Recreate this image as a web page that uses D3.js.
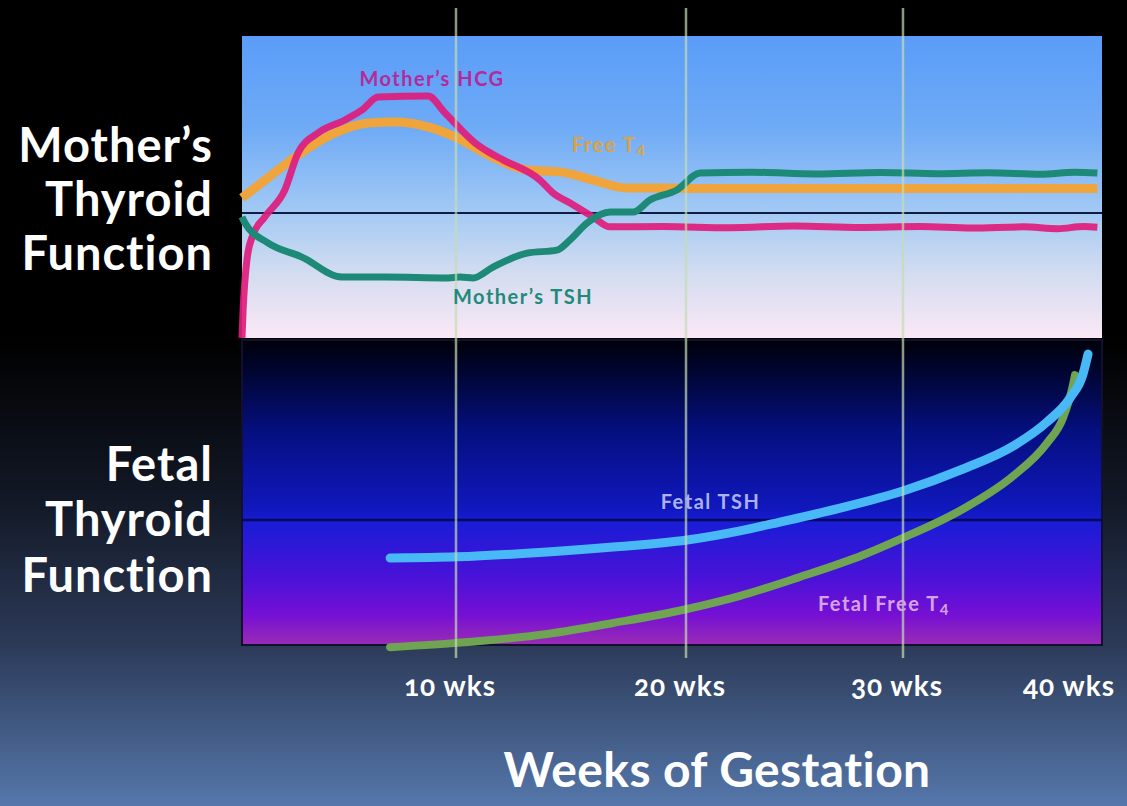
<!DOCTYPE html>
<html>
<head>
<meta charset="utf-8">
<script src="https://cdn.jsdelivr.net/npm/d3@7"></script>
<style>
  html, body { margin: 0; padding: 0; background: #000; }
  svg { display: block; }
  text { font-family: Lato, "Open Sans", sans-serif; }
</style>
</head>
<body>
<svg id="chart" width="1127" height="806"></svg>
<script>
// ---------------- DATA ----------------
// Week-of-gestation tick labels
const tickWeeks = [10, 20, 30, 40];
const tickLabels = ["10 wks", "20 wks", "30 wks", "40 wks"];
const gridWeeks = [10, 20, 30];

// Mother's thyroid panel: relative level 0..100 (reference line at ~41)
const motherRefLevel = 41.4;
const motherHCG = [
  [0, 0], [0.05, 9], [0.23, 25.8], [0.47, 33.4], [1.07, 40.1], [2.0, 49.0], [2.62, 61.3],
  [3.55, 67.9], [4.81, 72.2], [5.61, 75.5], [6.36, 79.8], [8.69, 80.1], [9.49, 74.5],
  [10.83, 64.6], [11.48, 61.3], [12.04, 59.0], [13.65, 52.3], [14.22, 48.0], [14.96, 44.7],
  [15.96, 40.1], [16.7, 36.8], [19, 36.9], [22, 36.5], [25, 37.1], [28, 36.6], [31, 36.9],
  [34, 36.4], [37, 36.8], [39, 36.2], [40.5, 36.9], [41.3, 36.7]
];
const motherFreeT4 = [
  [0, 46.4], [1.21, 53.0], [2.48, 59.9], [4.35, 67.9], [5.89, 71.2], [7.15, 71.5],
  [8.69, 69.9], [9.95, 66.6], [11.48, 60.3], [13.09, 55.6], [14.52, 55.0], [15.96, 52.3],
  [17.43, 49.7], [19.17, 49.7], [20.6, 49.5], [25, 49.5], [30, 49.5], [35, 49.5], [41.3, 49.5]
];
const motherTSH = [
  [0, 40.1], [0.14, 38.1], [1.21, 31.5], [2.8, 26.8], [4.67, 20.2], [6.68, 20.2],
  [9.63, 19.9], [10.17, 20.2], [10.74, 19.9], [11.61, 23.5], [13.09, 28.1], [14.39, 29.1],
  [14.96, 32.5], [15.7, 38.1], [16.7, 41.7], [17.7, 41.7], [18.43, 45.7], [19.6, 49.0],
  [20.65, 54.6], [23, 54.9], [26, 54.3], [29, 54.8], [32, 54.4], [35, 54.7], [38, 54.2],
  [40, 54.9], [41.3, 54.6]
];

// Fetal thyroid panel: relative level 0..100 (reference line at ~41)
const fetalRefLevel = 41;
const fetalTSH = [
  [6.92, 28.5], [10.04, 28.9], [13.96, 30.5], [16.83, 32.1], [20.05, 34.4], [22.49, 37.4],
  [24.33, 40.3], [27.1, 44.9], [30.0, 50.5], [33.49, 57.7], [36.4, 65.2], [38.37, 73.1],
  [39.71, 81.0], [40.47, 88.9], [40.76, 95.4]
];
const fetalFreeT4 = [
  [6.92, -0.7], [10.04, 0.7], [13.96, 3.6], [16.83, 7.2], [20.05, 11.8], [22.49, 16.1],
  [25.12, 22.0], [28.16, 29.5], [30.0, 35.1], [33.49, 44.6], [36.4, 55.4], [38.37, 66.2],
  [39.3, 74.4], [39.88, 85.2], [40.0, 88.5]
];

const rowLabelsMother = ["Mother\u2019s", "Thyroid", "Function"];
const rowLabelsFetal = ["Fetal", "Thyroid", "Function"];
const axisTitle = "Weeks of Gestation";

// ---------------- LAYOUT ----------------
const W = 1127, H = 806;
const svg = d3.select("#chart");
const defs = svg.append("defs");

function grad(id, stops) {
  const g = defs.append("linearGradient").attr("id", id)
    .attr("x1", 0).attr("y1", 0).attr("x2", 0).attr("y2", 1);
  stops.forEach(s => g.append("stop").attr("offset", s[0]).attr("stop-color", s[1]));
}
grad("bg", [[0, "#000000"], [0.42, "#000000"], [0.62, "#121826"], [0.8, "#2c3a58"], [1, "#5577ab"]]);
grad("upper", [[0, "#5a9cf8"], [0.3, "#6eaaf6"], [0.58, "#a2c9f4"], [0.78, "#d2dcf0"], [1, "#fbe8f6"]]);
grad("lower", [[0, "#000008"], [0.1, "#000530"], [0.3, "#050f80"], [0.55, "#1018bc"], [0.6, "#1a1cd6"], [0.78, "#4a12d8"], [0.9, "#7510d4"], [1, "#9a2cb4"]]);

svg.append("rect").attr("width", W).attr("height", H).attr("fill", "url(#bg)");

const x = d3.scaleLinear().domain([0, 10, 20, 30, 40]).range([242, 456, 686, 903, 1075]);
const panelLeft = x(0), panelRight = 1102;
const yU = d3.scaleLinear().domain([0, 100]).range([338, 36]);
const yL = d3.scaleLinear().domain([0, 100]).range([645, 340]);

// panels
svg.append("rect").attr("x", panelLeft).attr("y", yU(100)).attr("width", panelRight - panelLeft)
  .attr("height", yU(0) - yU(100)).attr("fill", "url(#upper)");
svg.append("rect").attr("x", panelLeft).attr("y", yL(100)).attr("width", panelRight - panelLeft)
  .attr("height", yL(0) - yL(100)).attr("fill", "url(#lower)")
  .attr("stroke", "#12102e").attr("stroke-width", 2);

// reference lines
svg.append("line").attr("x1", panelLeft).attr("x2", panelRight)
  .attr("y1", yU(motherRefLevel)).attr("y2", yU(motherRefLevel))
  .attr("stroke", "#0f1d44").attr("stroke-width", 2);
svg.append("line").attr("x1", panelLeft).attr("x2", panelRight)
  .attr("y1", yL(fetalRefLevel)).attr("y2", yL(fetalRefLevel))
  .attr("stroke", "#08085a").attr("stroke-width", 2.5);

// clip for upper curves
defs.append("clipPath").attr("id", "clipU").append("rect")
  .attr("x", panelLeft - 6).attr("y", yU(100)).attr("width", panelRight - panelLeft + 6)
  .attr("height", yU(0) - yU(100));

const lineU = d3.line().x(d => x(d[0])).y(d => yU(d[1])).curve(d3.curveMonotoneX);
const lineL = d3.line().x(d => x(d[0])).y(d => yL(d[1])).curve(d3.curveMonotoneX);

const gU = svg.append("g").attr("clip-path", "url(#clipU)");
gU.append("path").datum(motherFreeT4).attr("d", lineU).attr("fill", "none")
  .attr("stroke", "#f0a43c").attr("stroke-width", 9).attr("stroke-linejoin", "round");
gU.append("path").datum(motherHCG).attr("d", lineU).attr("fill", "none")
  .attr("stroke", "#e01c7c").attr("stroke-width", 7).attr("stroke-opacity", 0.92).attr("stroke-linejoin", "round");
gU.append("path").datum(motherTSH).attr("d", lineU).attr("fill", "none")
  .attr("stroke", "#1d8a78").attr("stroke-width", 7).attr("stroke-linejoin", "round");

svg.append("path").datum(fetalFreeT4).attr("d", lineL).attr("fill", "none")
  .attr("stroke", "#6ea452").attr("stroke-width", 8).attr("stroke-linecap", "round");
svg.append("path").datum(fetalTSH).attr("d", lineL).attr("fill", "none")
  .attr("stroke", "#48b9f6").attr("stroke-width", 9).attr("stroke-linecap", "round");

// vertical week lines
svg.selectAll(".grid").data(gridWeeks).join("line")
  .attr("x1", d => x(d)).attr("x2", d => x(d)).attr("y1", 8).attr("y2", 658)
  .attr("stroke", "#c4dcb4").attr("stroke-opacity", 0.7).attr("stroke-width", 2.5);

// series labels
function seriesLabel(txt, sub, wk, yv, scale, color, anchor) {
  const t = svg.append("text").attr("x", x(wk)).attr("y", scale(yv))
    .attr("fill", color).attr("font-size", 20).attr("font-weight", 700)
    .attr("text-anchor", anchor || "start").attr("letter-spacing", "1.5");
  t.append("tspan").text(txt);
  if (sub) t.append("tspan").attr("font-size", 15).attr("dy", 4).text(sub);
}
seriesLabel("Mother\u2019s HCG", null, 8.88, 83.4, yU, "#b42a9a", "middle");
seriesLabel("Free T", "4", 15.04, 61.6, yU, "#d9a445");
seriesLabel("Mother\u2019s TSH", null, 9.86, 11.3, yU, "#1f8a78");
seriesLabel("Fetal TSH", null, 18.9, 44.6, yL, "#a9b2f2");
seriesLabel("Fetal Free T", "4", 26.08, 11.1, yL, "#d6a2e6");

// row labels
function rowLabel(lines, baselines) {
  svg.append("g").selectAll("text").data(lines).join("text")
    .attr("x", 213).attr("y", (d, i) => baselines[i])
    .attr("text-anchor", "end").attr("fill", "#ffffff")
    .attr("font-size", 47).attr("font-weight", 700).attr("letter-spacing", "1")
    .text(d => d);
}
rowLabel(rowLabelsMother, [162, 216, 270]);
rowLabel(rowLabelsFetal, [481, 536, 592]);

// tick labels
svg.append("g").selectAll("text").data(tickWeeks).join("text")
  .attr("x", d => x(d) - 6).attr("y", 696)
  .attr("text-anchor", "middle").attr("fill", "#ffffff")
  .attr("font-size", 28).attr("font-weight", 700).attr("letter-spacing", "1")
  .style("font-variant-numeric", "oldstyle-nums")
  .style("font-feature-settings", "'onum' 1")
  .text((d, i) => tickLabels[i]);

// axis title
svg.append("text").attr("x", 717).attr("y", 787).attr("text-anchor", "middle")
  .attr("fill", "#ffffff").attr("font-size", 48).attr("font-weight", 700)
  .attr("letter-spacing", "0.4")
  .text(axisTitle);
</script>
</body>
</html>
